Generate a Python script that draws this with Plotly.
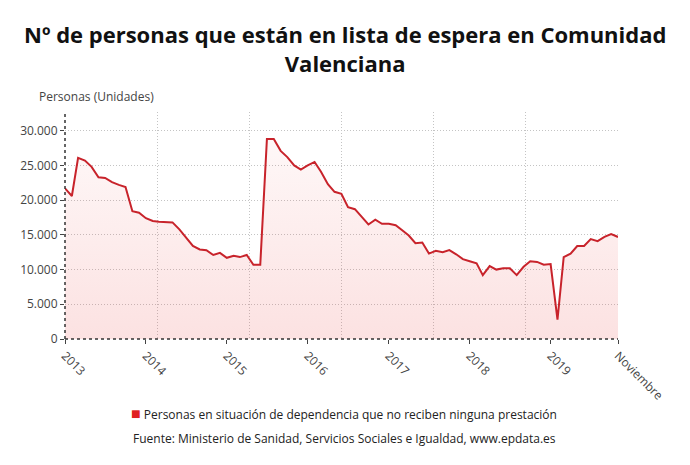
import pandas as pd
import plotly.graph_objects as go

# Monthly data Jan 2013 - Nov 2019
months = pd.date_range("2013-01-01", "2019-11-01", freq="MS")
personas = [
    21700, 20600, 26100, 25700, 24800, 23300, 23200, 22600, 22200, 21900, 18400, 18200,  # 2013
    17400, 17000, 16900, 16800, 16800, 15800, 14600, 13400, 12900, 12800, 12100, 12400,  # 2014
    11700, 12000, 11800, 12100, 10700, 10700, 28800, 28800, 27100, 26200, 25000, 24400,  # 2015
    25000, 25500, 24100, 22300, 21200, 20900, 19000, 18700, 17600, 16500, 17200, 16600,  # 2016
    16600, 16400, 15700, 14900, 13800, 13900, 12300, 12700, 12500, 12800, 12200, 11500,  # 2017
    11200, 10900, 9200, 10500, 10000, 10200, 10200, 9200, 10400, 11200, 11100, 10700,     # 2018
    10800, 2800, 11800, 12300, 13400, 13400, 14400, 14100, 14700, 15100, 14700,           # 2019
]
tick_dates = ["2013-01-01", "2014-01-01", "2015-01-01", "2016-01-01", "2017-01-01",
              "2018-01-01", "2019-01-01", "2019-11-01"]
tick_labels = ["2013", "2014", "2015", "2016", "2017", "2018", "2019", "Noviembre"]
y_ticks = [0, 5000, 10000, 15000, 20000, 25000, 30000]

series_name = "Personas en situación de dependencia que no reciben ninguna prestación"
title = "Nº de personas que están en lista de espera en Comunidad<br>Valenciana"
source = "Fuente: Ministerio de Sanidad, Servicios Sociales e Igualdad, www.epdata.es"

FONT = "Open Sans"
L, R, T, B = 65, 618, 112, 339
PW, PH = R - L, B - T


def px_x(x):
    return (x - L) / PW


def px_y(y):
    return (B - y) / PH


fig = go.Figure()
fig.add_trace(go.Scatter(
    x=months, y=personas, mode="lines", name=series_name, showlegend=False,
    line=dict(color="#c8232b", width=2),
    fill="tozeroy",
    fillgradient=dict(type="vertical",
                      colorscale=[[0, "rgba(235,70,70,0.16)"], [1, "rgba(235,70,70,0.04)"]]),
    hoverinfo="x+y",
))
# equal-division vertical grid (overlay axis)
fig.add_trace(go.Scatter(x=[None], y=[None], xaxis="x2", showlegend=False))

GRID = dict(gridcolor="#c4c4c4", griddash="1px,2px", gridwidth=1)

fig.update_layout(
    width=690, height=465,
    margin=dict(l=L, r=690 - R, t=T, b=465 - B, autoexpand=False),
    paper_bgcolor="white", plot_bgcolor="white",
    separators=",.",
    showlegend=False,
    font=dict(family=FONT, color="#444", size=12),
    xaxis=dict(
        type="date", automargin=False,
        range=["2013-01-01", "2019-11-01"],
        tickvals=tick_dates, ticktext=tick_labels, tickangle=45,
        ticks="outside", ticklen=4, tickcolor="#444",
        showgrid=False, showline=False, zeroline=False,
        tickfont=dict(size=12, color="#444"),
    ),
    xaxis2=dict(
        overlaying="x", range=[0, 6], dtick=1, showgrid=True, automargin=False,
        showticklabels=False, ticks="", zeroline=False, showline=False, **GRID,
    ),
    yaxis=dict(
        range=[0, 32700], tickvals=y_ticks, tickformat=",d", separatethousands=True,
        showgrid=True, automargin=False, **GRID,
        ticks="outside", ticklen=4, tickcolor="#444",
        zeroline=False, showline=False,
        tickfont=dict(size=12, color="#444"),
    ),
    shapes=[
        dict(type="line", xref="paper", yref="paper", x0=0, x1=0, y0=0, y1=1,
             line=dict(color="#333", width=1.5, dash="dot")),
        dict(type="line", xref="paper", yref="paper", x0=0, x1=1, y0=0, y1=0,
             line=dict(color="#333", width=1.5, dash="dot")),
    ],
    annotations=[
        dict(text=title, xref="paper", yref="paper",
             x=px_x(345), y=px_y(48), xanchor="center", yanchor="middle",
             showarrow=False, font=dict(family=FONT, size=22, color="#111", weight="bold")),
        dict(text="Personas (Unidades)", xref="paper", yref="paper",
             x=px_x(37), y=px_y(97), xanchor="left", yanchor="middle",
             showarrow=False, font=dict(size=12, color="#444")),
        dict(text="<span style='color:#e02020;font-size:16px'>■</span> " + series_name,
             xref="paper", yref="paper",
             x=px_x(344), y=px_y(413), xanchor="center", yanchor="middle",
             showarrow=False, font=dict(size=12, color="#222")),
        dict(text=source, xref="paper", yref="paper",
             x=px_x(344), y=px_y(438), xanchor="center", yanchor="middle",
             showarrow=False, font=dict(size=12, color="#222")),
    ],
)
fig.write_html("out.html")
